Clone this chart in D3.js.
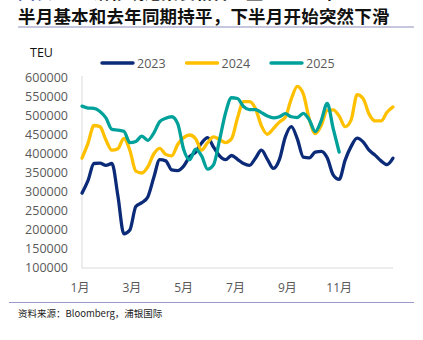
<!DOCTYPE html>
<html>
<head>
<meta charset="utf-8">
<script src="https://cdn.jsdelivr.net/npm/d3@7"></script>
<style>
  body { margin: 0; background: #fff; }
  svg { display: block; }
</style>
</head>
<body>
<svg></svg>
<script>
//Setting
const width = 423;
const height = 340;

//Data (weekly, TEU)
const weeks = d3.range(53);
const v2023 = [297000, 330000, 375000, 376000, 370000, 375000, 290000, 190000, 200000, 262000,
  272000, 287000, 338000, 385000, 382000, 358000, 356000, 368000, 393000, 405000,
  429000, 443000, 418000, 395000, 385000, 396000, 386000, 375000, 370000, 389000,
  410000, 386000, 362000, 385000, 445000, 472000, 440000, 392000, 390000, 405000,
  407000, 390000, 345000, 333000, 384000, 420000, 442000, 432000, 410000, 397000,
  382000, 372000, 389000];
const v2024 = [389000, 428000, 475000, 472000, 437000, 410000, 414000, 441000, 410000, 355000,
  350000, 366000, 400000, 415000, 399000, 395000, 425000, 443000, 450000, 440000,
  410000, 430000, 445000, 438000, 430000, 440000, 495000, 538000, 538000, 520000,
  474000, 452000, 467000, 484000, 497000, 545000, 578000, 558000, 492000, 454000,
  475000, 515000, 516000, 500000, 472000, 490000, 556000, 546000, 505000, 487000,
  487000, 510000, 524000];
const v2025 = [526000, 521000, 520000, 512000, 495000, 465000, 463000, 460000, 430000, 433000,
  447000, 436000, 455000, 485000, 494000, 498000, 480000, 412000, 385000, 413000,
  395000, 360000, 372000, 437000, 508000, 548000, 546000, 525000, 517000, 517000,
  509000, 500000, 495000, 498000, 506000, 498000, 496000, 507000, 490000, 459000,
  488000, 533000, 467000, 405000];

const seriesNames = ["2023", "2024", "2025"];
const seriesValues = [v2023, v2024, v2025];
const seriesColors = ["#0b2a78", "#ffc000", "#00a19a"];

const yTicks = [100000, 150000, 200000, 250000, 300000, 350000, 400000, 450000, 500000, 550000, 600000];
const monthTicks = [1, 3, 5, 7, 9, 11];

const svg = d3.select("svg")
  .attr("width", width)
  .attr("height", height);

//Titles (first line is cut off at the top edge in the source)
svg.append("text")
  .attr("x", 18).attr("y", -1.5)
  .style("font-family", "'Noto Sans CJK SC'")
  .style("font-weight", 700)
  .style("font-size", "17px")
  .attr("fill", "#111")
  .html('<tspan fill="#1f3d99">图表 12：</tspan>洛杉矶港集装箱吞吐量：2025年上');

svg.append("text")
  .attr("x", 18).attr("y", 23)
  .style("font-family", "'Noto Sans CJK SC'")
  .style("font-weight", 700)
  .style("font-size", "17.5px")
  .style("letter-spacing", "0.2px")
  .attr("fill", "#111")
  .text("半月基本和去年同期持平，下半月开始突然下滑");

svg.append("line")
  .attr("x1", 18).attr("x2", 414)
  .attr("y1", 27).attr("y2", 27)
  .attr("stroke", "#8f8dbf").attr("stroke-width", 1.2);

svg.append("line")
  .attr("x1", 9).attr("x2", 414)
  .attr("y1", 302.5).attr("y2", 302.5)
  .attr("stroke", "#9a98c8").attr("stroke-width", 1.2);

svg.append("text")
  .attr("x", 18).attr("y", 317)
  .style("font-family", "'Noto Sans CJK SC'")
  .style("font-size", "9.5px")
  .attr("fill", "#222")
  .text("资料来源：Bloomberg，浦银国际");

//Scales
const x = d3.scaleLinear().domain([0, 52]).range([82, 393]);
const y = d3.scaleLinear().domain([100000, 600000]).range([268, 78]);

//Y axis
svg.append("line")
  .attr("x1", 82).attr("x2", 82)
  .attr("y1", y(600000) - 2).attr("y2", y(100000))
  .attr("stroke", "#d9d9d9");
svg.append("line")
  .attr("x1", 82).attr("x2", 393)
  .attr("y1", y(100000)).attr("y2", y(100000))
  .attr("stroke", "#d9d9d9");

svg.append("g")
  .selectAll("text")
  .data(yTicks)
  .enter()
  .append("text")
  .attr("x", 68)
  .attr("y", d => y(d))
  .attr("dy", "0.35em")
  .attr("text-anchor", "end")
  .style("font-family", "'Open Sans'")
  .style("font-size", "12.5px")
  .attr("fill", "#595959")
  .text(d => d);

svg.append("text")
  .attr("x", 30).attr("y", 57)
  .style("font-family", "'Open Sans'")
  .style("font-size", "12.5px")
  .attr("fill", "#111")
  .text("TEU");

//X labels
const monthX = d3.scaleLinear().domain([1, 13]).range([82, 393]);
svg.append("g")
  .selectAll("text")
  .data(monthTicks)
  .enter()
  .append("text")
  .attr("x", d => monthX(d) - 2)
  .attr("y", 292)
  .attr("text-anchor", "middle")
  .style("font-family", "'Open Sans', 'Noto Sans CJK SC'")
  .style("font-size", "12px")
  .attr("fill", "#595959")
  .text(d => d + "月");

//Lines
const line = d3.line()
  .x((d, i) => x(weeks[i]))
  .y(d => y(d))
  .curve(d3.curveMonotoneX);

svg.append("g")
  .selectAll("path")
  .data(seriesValues)
  .enter()
  .append("path")
  .attr("d", d => line(d))
  .attr("fill", "none")
  .attr("stroke", (d, i) => seriesColors[i])
  .attr("stroke-width", 3.3)
  .attr("stroke-linejoin", "round")
  .attr("stroke-linecap", "round");

//Legend
const legend = svg.append("g")
  .attr("transform", "translate(102, 63)");

const item = legend.selectAll("g")
  .data(seriesNames)
  .enter()
  .append("g")
  .attr("transform", (d, i) => `translate(${i * 84.5}, 0)`);

item.append("line")
  .attr("x1", 0).attr("x2", 31)
  .attr("stroke", (d, i) => seriesColors[i])
  .attr("stroke-width", 3.4)
  .attr("stroke-linecap", "round");

item.append("text")
  .attr("x", 35)
  .attr("dy", "0.36em")
  .style("font-family", "'Open Sans'")
  .style("font-size", "12.5px")
  .attr("fill", "#595959")
  .text(d => d);
</script>
</body>
</html>
